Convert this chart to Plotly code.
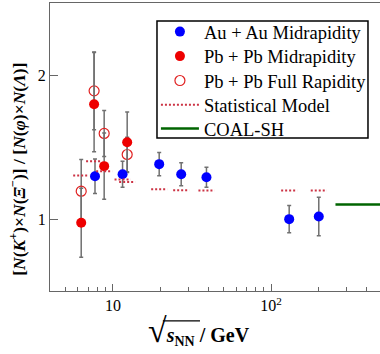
import numpy as np
import plotly.graph_objects as go

# ---- data ----
AU_X = [7.7, 11.5, 19.6, 27, 39, 130, 200]
AU_Y = [1.297, 1.311, 1.381, 1.311, 1.290, 0.999, 1.017]
AU_ERR = [0.12, 0.09, 0.08, 0.08, 0.07, 0.095, 0.134]

PB_X = [6.3, 7.6, 8.8, 12.3]
PB_Y = [0.974, 1.797, 1.367, 1.533]
PB_ERR_P = [0.24, 0.36, 0.23, 0.21]
PB_ERR_M = [0.24, 0.33, 0.23, 0.21]

PBF_X = [6.3, 7.6, 8.8, 12.3]
PBF_Y = [1.193, 1.890, 1.594, 1.448]
PBF_ERR = [0.22, 0.27, 0.16, 0.12]

STAT_X = [6.3, 7.6, 8.8, 11.5, 12.3, 19.6, 27, 39, 130, 200]
STAT_Y = [1.302, 1.401, 1.332, 1.274, 1.257, 1.207, 1.200, 1.198, 1.198, 1.198]
STAT_HALF = 1.124  # multiplicative half-width of each short segment

COAL_X = [255, 2760]
COAL_Y = [1.10, 1.10]

XTICK_VALS = [10, 100]
XTICK_TEXT = ["10", "10<sup>2</sup>"]
XMINOR = [5, 6, 7, 8, 9, 20, 30, 40, 50, 60, 70, 80, 90, 200, 300, 400]
YTICK_VALS = [1, 2]

FONT = "Liberation Serif, Times New Roman, serif"
ERRC = "#707070"

fig = go.Figure()

# open circles (drawn first, underneath)
fig.add_trace(go.Scatter(
    x=PBF_X, y=PBF_Y, mode="markers", name="Pb + Pb Full Rapidity",
    legend="legend3",
    marker=dict(symbol="circle-open", size=10, color="#e02020", line=dict(width=1.2)),
    error_y=dict(type="data", array=PBF_ERR, color=ERRC, thickness=1.5, width=2),
))
fig.add_trace(go.Scatter(
    x=PB_X, y=PB_Y, mode="markers", name="Pb + Pb Midrapidity",
    legend="legend2",
    marker=dict(symbol="circle", size=10, color="#ee0000"),
    error_y=dict(type="data", array=PB_ERR_P, arrayminus=PB_ERR_M, color=ERRC,
                 thickness=1.5, width=2),
))
fig.add_trace(go.Scatter(
    x=AU_X, y=AU_Y, mode="markers", name="Au + Au Midrapidity",
    legend="legend",
    marker=dict(symbol="circle", size=10, color="#0000ff"),
    error_y=dict(type="data", array=AU_ERR, color=ERRC, thickness=1.5, width=2),
))

# statistical model: short dotted segments
sx, sy = [], []
for x, y in zip(STAT_X, STAT_Y):
    sx += [x / STAT_HALF, x * STAT_HALF, None]
    sy += [y, y, None]
fig.add_trace(go.Scatter(
    x=sx, y=sy, mode="lines", name="Statistical Model", legend="legend4",
    line=dict(color="#cc3344", width=2, dash="2px,2px"),
))

fig.add_trace(go.Scatter(
    x=COAL_X, y=COAL_Y, mode="lines", name="COAL-SH", legend="legend5",
    line=dict(color="#006400", width=2.5),
))

# one legend per row so the rows can be spaced like the reference
ROW_Y = [0.8990, 0.8140, 0.7292, 0.6450, 0.5625]
leg_common = dict(
    x=0.321, xanchor="left", yanchor="middle",
    bgcolor="rgba(0,0,0,0)", borderwidth=0,
    font=dict(family=FONT, size=18.5, color="black"),
    itemwidth=38,
)
legends = {}
for i, yy in enumerate(ROW_Y):
    key = "legend" if i == 0 else f"legend{i + 1}"
    legends[key] = dict(leg_common, y=yy)

fig.update_layout(
    template="none",
    width=380, height=354,
    margin=dict(l=50, r=0, t=3, b=63, autoexpand=False),
    paper_bgcolor="white", plot_bgcolor="white",
    font=dict(family=FONT, size=16, color="black"),
    showlegend=True,
    **legends,
)

# legend frame
fig.add_shape(type="rect", xref="paper", yref="paper",
              x0=0.3242, x1=0.9636, y0=0.53125, y1=0.9375,
              line=dict(color="black", width=1.5), fillcolor="white", layer="below")

fig.update_xaxes(
    type="log", range=[np.log10(4), 2.688], automargin=False,
    tickvals=XTICK_VALS, ticktext=XTICK_TEXT,
    ticks="inside", ticklen=7, tickwidth=1, tickcolor="#666",
    minor=dict(tickvals=XMINOR, ticks="inside", ticklen=4, tickwidth=1, tickcolor="#666",
               showgrid=False),
    showline=True, linecolor="#666", linewidth=1.2, mirror=True,
    showgrid=False, zeroline=False,
    tickfont=dict(family=FONT, size=16, color="black"),
)
fig.update_yaxes(
    range=[0.5, 2.5], tickvals=YTICK_VALS, automargin=False,
    ticks="inside", ticklen=8, tickwidth=1, tickcolor="#666",
    showline=True, linecolor="#666", linewidth=1.2, mirror=False,
    showgrid=False, zeroline=False,
    tickfont=dict(family=FONT, size=16, color="black"),
)

# axis titles as annotations
fig.add_annotation(
    xref="paper", yref="paper", x=-0.10, y=0.421,
    xanchor="center", yanchor="middle", textangle=-90, showarrow=False,
    text="<b>[<i>N</i>(<i>K</i><sup>+</sup>)×<i>N</i>(<i>Ξ</i><sup>−</sup>)] / [<i>N</i>(<i>φ</i>)×<i>N</i>(<i>Λ</i>)]</b>",
    font=dict(family=FONT, size=17.5, color="black"),
)
fig.add_annotation(
    xref="paper", yref="paper", x=0.452, y=-0.137,
    xanchor="center", yanchor="middle", showarrow=False,
    text="<b><span style='font-size:34px'>√</span><i>s</i><sub>NN</sub> / GeV</b>",
    font=dict(family=FONT, size=20, color="black"),
)
fig.add_shape(type="line", xref="paper", yref="paper",
              x0=0.342, x1=0.4545, y0=-0.104, y1=-0.104,
              line=dict(color="black", width=1.2))

fig.write_html("out.html", config={"displayModeBar": False},
               post_script="document.body.style.margin='0';document.body.style.overflow='hidden';")
